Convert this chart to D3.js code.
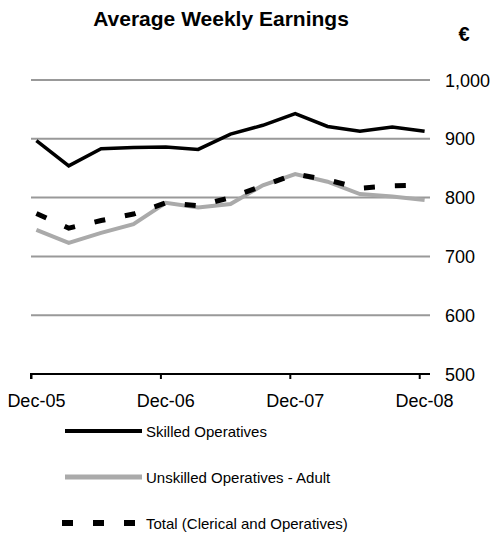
<!DOCTYPE html>
<html><head><meta charset="utf-8">
<script src="https://cdn.jsdelivr.net/npm/d3@7"></script>
<style>body{margin:0;background:#fff;}svg{display:block;font-family:"Liberation Sans",Arial,sans-serif;}</style>
</head><body>
<svg id="c" width="493" height="536"></svg>
<script>
const months = [0,3,6,9,12,15,18,21,24,27,30,33,36];
const skilled = [897,854,883,885,886,882,908,923,943,921,913,920,913];
const unskilled = [745,723,740,755,791,783,789,821,840,827,806,802,796];
const total = [773,748,761,772,791,786,800,820,840,830,816,820,821];
const xTickMonths = [0,12,24,36];
const xTickLabels = ["Dec-05","Dec-06","Dec-07","Dec-08"];
const yTicks = [500,600,700,800,900,1000];
const seriesNames = ["Skilled Operatives","Unskilled Operatives - Adult","Total (Clerical and Operatives)"];

const svg = d3.select("#c");
const x = d3.scaleLinear().domain([0,37]).range([31,430]);
const y = d3.scaleLinear().domain([500,1000]).range([374,80]);

// title
svg.append("text").attr("x",221).attr("y",26).attr("text-anchor","middle")
  .attr("font-weight","bold").attr("font-size",21).text("Average Weekly Earnings");
svg.append("text").attr("x",464).attr("y",41).attr("text-anchor","middle")
  .attr("font-weight","bold").attr("font-size",20).text("€");

// gridlines
svg.append("g").selectAll("line").data(yTicks.filter(d=>d>500)).join("line")
  .attr("x1",x(0)).attr("x2",x(37)).attr("y1",d=>y(d)).attr("y2",d=>y(d))
  .attr("stroke","#999").attr("stroke-width",2);

// right labels
svg.append("g").selectAll("text").data(yTicks).join("text")
  .attr("x",445).attr("y",d=>y(d)+6.5).attr("font-size",18)
  .text(d=>d3.format(",")(d));

// x axis
const xAxis = d3.axisBottom(x).tickValues(xTickMonths).tickSize(5).tickFormat(()=>"");
const gx = svg.append("g").attr("transform",`translate(0,${y(500)})`).call(xAxis);
gx.select(".domain").attr("stroke","#000").attr("stroke-width",2).attr("d",`M${x(0)},5V0H${x(37)}`);
gx.selectAll(".tick line").attr("stroke","#000").attr("stroke-width",2);
svg.append("g").selectAll("text").data(xTickMonths).join("text")
  .attr("x",d=>x(d+0.5)).attr("y",407).attr("text-anchor","middle").attr("font-size",18)
  .text((d,i)=>xTickLabels[i]);

const line = d3.line().x((d,i)=>x(months[i]+0.5)).y(d=>y(d));
svg.append("path").datum(unskilled).attr("d",line).attr("fill","none")
  .attr("stroke","#aaaaaa").attr("stroke-width",4);
svg.append("path").datum(total).attr("d",line).attr("fill","none")
  .attr("stroke","#000").attr("stroke-width",5).attr("stroke-dasharray","11,20");
svg.append("path").datum(skilled).attr("d",line).attr("fill","none")
  .attr("stroke","#000").attr("stroke-width",3.5);

// legend
const styles = [
  {stroke:"#000",w:4,dash:null},
  {stroke:"#aaaaaa",w:5,dash:null},
  {stroke:"#000",w:6,dash:"11,20"}
];
const ly = [431,477,523];
const lg = svg.append("g");
seriesNames.forEach((n,i)=>{
  lg.append("line").attr("x1",i===2?62:65).attr("x2",142).attr("y1",ly[i]).attr("y2",ly[i])
    .attr("stroke",styles[i].stroke).attr("stroke-width",styles[i].w)
    .attr("stroke-dasharray",styles[i].dash);
  lg.append("text").attr("x",146).attr("y",ly[i]+5.5).attr("font-size",15).text(n);
});
</script>
</body></html>
